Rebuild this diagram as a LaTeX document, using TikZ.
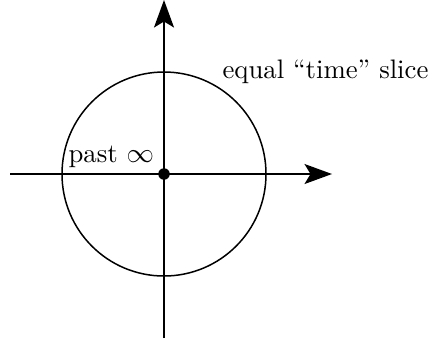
\documentclass[tikz,border=0pt]{standalone}
\usetikzlibrary{arrows.meta}
\begin{document}
\begin{tikzpicture}[x=0.4pt,y=-0.4pt,
  axis/.style={line width=0.6pt,-{Stealth[length=11pt,width=8pt,inset=2.4pt]}},
  lbl/.style={anchor=base west,inner sep=0pt,font=\fontsize{10.7}{13}\selectfont}]
\useasboundingbox (0,0) rectangle (430,341);
\coordinate (o) at (164,174);
\coordinate (xs) at (10,174);
\coordinate (xe) at (332,174);
\coordinate (ys) at (164,338);
\coordinate (ye) at (164,0);
\draw[line width=0.6pt] (o) circle[radius=40.8pt];
\draw[axis] (xs) -- (xe);
\draw[axis] (ys) -- (ye);
\fill (o) circle[radius=2.3pt];
\node[lbl] (past) at (68,162) {past $\infty$};
\node[lbl] (slice) at (222,78) {equal ``time'' slice};
\end{tikzpicture}
\end{document}
